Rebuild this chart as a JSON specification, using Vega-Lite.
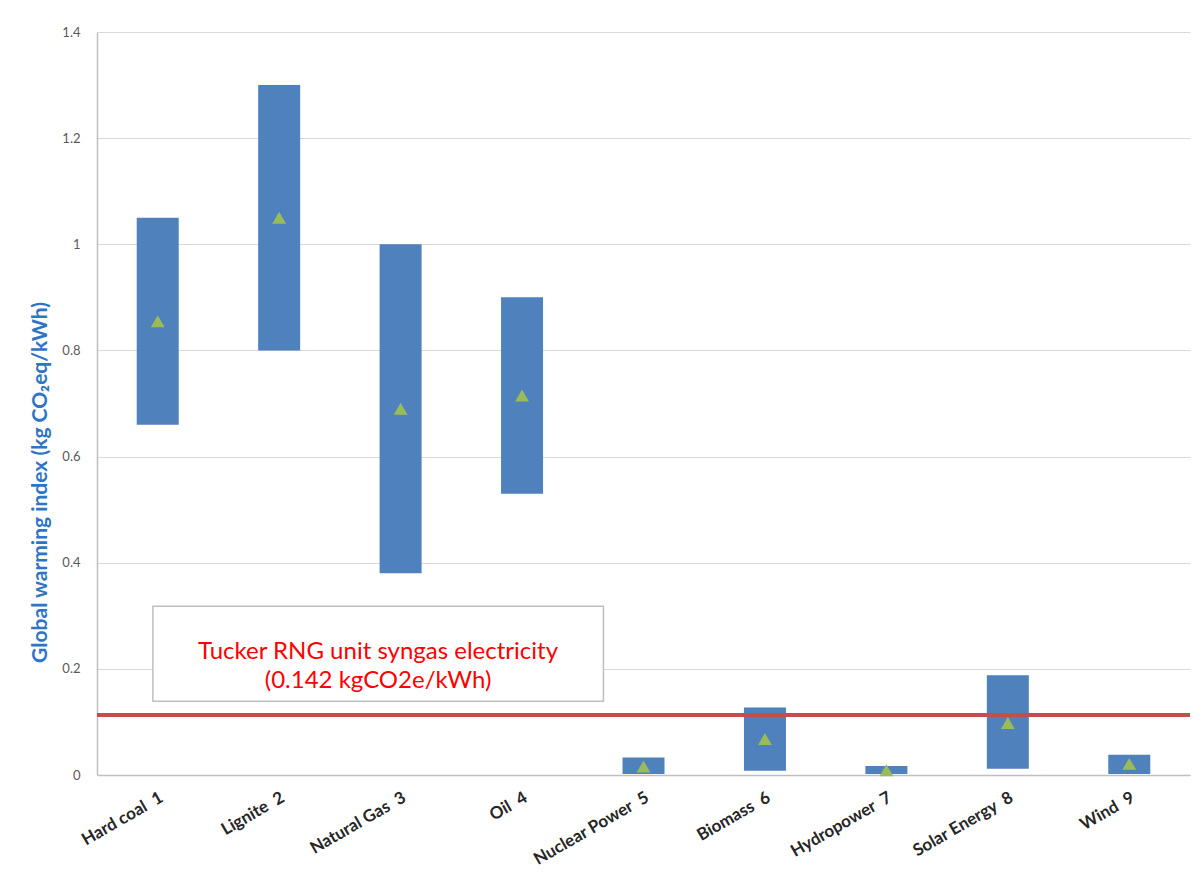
{
  "$schema": "https://vega.github.io/schema/vega-lite/v6.json",
  "autosize": {"type": "none"},
  "padding": {"left": 97, "top": 32, "right": 12, "bottom": 111},
  "width": 1093,
  "height": 743,
  "background": "white",
  "config": {
    "font": "Lato",
    "view": {"stroke": null}
  },
  "datasets": {
    "ranges": [
      {"source": "Hard coal \u00a01", "low": 0.66, "high": 1.05, "mean": 0.855},
      {"source": "Lignite \u00a02", "low": 0.80, "high": 1.30, "mean": 1.05},
      {"source": "Natural Gas \u00a03", "low": 0.38, "high": 1.00, "mean": 0.69},
      {"source": "Oil \u00a04", "low": 0.53, "high": 0.90, "mean": 0.715},
      {"source": "Nuclear Power \u00a05", "low": 0.002, "high": 0.033, "mean": 0.016},
      {"source": "Biomass \u00a06", "low": 0.008, "high": 0.127, "mean": 0.068},
      {"source": "Hydropower \u00a07", "low": 0.002, "high": 0.017, "mean": 0.009},
      {"source": "Solar Energy \u00a08", "low": 0.012, "high": 0.188, "mean": 0.098},
      {"source": "Wind \u00a09", "low": 0.002, "high": 0.038, "mean": 0.021}
    ],
    "reference": [{"ref": 0.113}],
    "note": [
      {"x1": 0.46, "x2": 4.17, "y1": 0.139, "y2": 0.318, "xc": 2.314, "yc": 0.232,
       "label": "Tucker RNG unit syngas electricity\n(0.142 kgCO2e/kWh)"}
    ]
  },
  "layer": [
    {
      "data": {"name": "ranges"},
      "encoding": {
        "x": {
          "field": "source", "type": "nominal", "sort": null,
          "scale": {"paddingInner": 0, "paddingOuter": 0},
          "axis": {
            "title": null, "labelAngle": -30, "labelAlign": "right", "labelBaseline": "top",
            "labelFontSize": 17, "labelFontWeight": "bold", "labelColor": "#262626",
            "labelPadding": 14, "ticks": false, "domainColor": "#bfbfbf", "domainWidth": 1.5
          }
        }
      },
      "layer": [
        {
          "mark": {"type": "bar", "color": "#4f81bd", "size": 42},
          "encoding": {
            "y": {
              "field": "low", "type": "quantitative",
              "scale": {"domain": [0, 1.4], "nice": false},
              "axis": {
                "title": "Global warming index (kg CO₂eq/kWh)",
                "titleColor": "#2e75c6", "titleFontSize": 21, "titleFontWeight": "bold",
                "titleX": -57, "titleY": 450, "titleAlign": "center", "titleBaseline": "middle",
                "values": [0, 0.2, 0.4, 0.6, 0.8, 1, 1.2, 1.4], "format": "~g",
                "labelFontSize": 13, "labelColor": "#595959", "labelPadding": 17,
                "ticks": false, "domainColor": "#bfbfbf", "domainWidth": 1.5,
                "gridColor": "#d9d9d9", "gridWidth": 1
              }
            },
            "y2": {"field": "high"}
          }
        },
        {
          "mark": {"type": "point", "shape": "triangle-up", "filled": true, "color": "#9bbb59", "size": 190, "opacity": 1},
          "encoding": {
            "y": {"field": "mean", "type": "quantitative"}
          }
        }
      ]
    },
    {
      "data": {"name": "reference"},
      "mark": {"type": "rule", "color": "#c0504d", "strokeWidth": 4},
      "encoding": {"y": {"field": "ref", "type": "quantitative"}}
    },
    {
      "data": {"name": "note"},
      "layer": [
        {
          "mark": {"type": "rect", "fill": "white", "stroke": "#bfbfbf", "strokeWidth": 1.5},
          "encoding": {
            "x": {"field": "x1", "type": "quantitative", "scale": {"domain": [0, 9], "nice": false, "zero": false}, "axis": null},
            "x2": {"field": "x2"},
            "y": {"field": "y1", "type": "quantitative"},
            "y2": {"field": "y2"}
          }
        },
        {
          "mark": {"type": "text", "color": "#ff0000", "fontSize": 24, "lineBreak": "\n", "lineHeight": 29, "align": "center", "baseline": "middle"},
          "encoding": {
            "x": {"field": "xc", "type": "quantitative", "scale": {"domain": [0, 9], "nice": false, "zero": false}, "axis": null},
            "y": {"field": "yc", "type": "quantitative"},
            "text": {"field": "label"}
          }
        }
      ]
    }
  ],
  "resolve": {"scale": {"x": "independent"}}
}
